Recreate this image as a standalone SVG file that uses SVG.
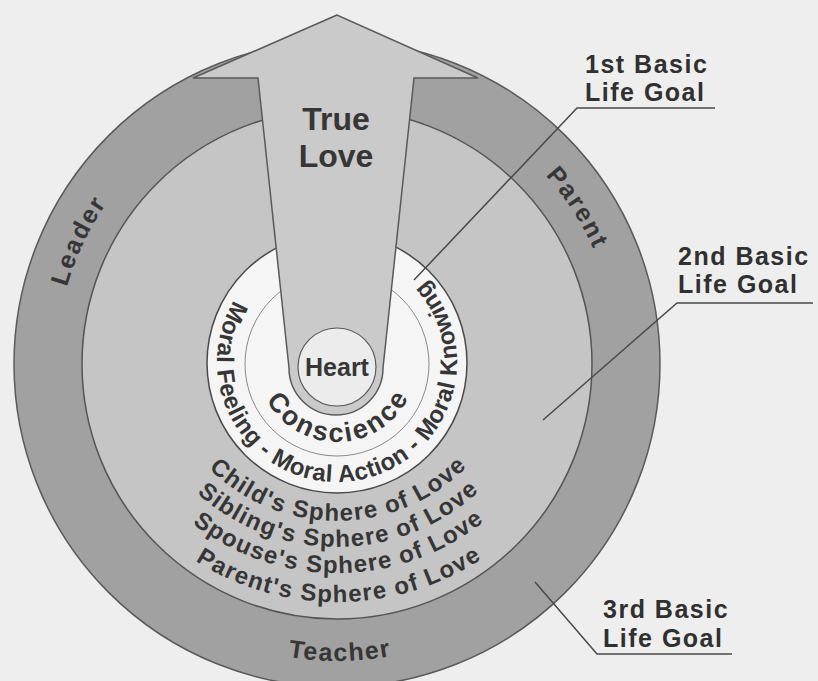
<svg xmlns="http://www.w3.org/2000/svg" width="818" height="681" viewBox="0 0 818 681">
<style>
text{font-family:"Liberation Sans",Arial,Helvetica,sans-serif;font-weight:bold;fill:#363636}
.ring{font-size:25px;letter-spacing:2px}
.goal{font-size:25px;letter-spacing:1.5px;fill:#303030}
.sph{font-size:24px;letter-spacing:1.3px}
.lead{stroke:#4a4a4a;stroke-width:1.5;fill:none}
</style>
<defs>
<path id="pLeader" d="M81.3,480.5 A281,281 0 0 1 266.6,92.0"/>
<path id="pParent" d="M371.2,85.1 A281,281 0 0 1 605.7,446.2"/>
<path id="pTeacher" d="M111.5,557.3 A297,297 0 0 0 566.5,552.5"/>
<path id="pMoral" d="M266.5,264.9 A120,120 0 1 0 385.8,252.4"/>
<path id="pCons" d="M257.9,350.2 A80,80 0 1 0 415.4,346.0"/>
<path id="pS1" d="M157.1,371.3 A183,183 0 0 0 517.5,368.2"/>
<path id="pS2" d="M131.5,376.1 A209,209 0 0 0 543.1,372.5"/>
<path id="pS3" d="M105.9,380.8 A235,235 0 0 0 568.8,376.8"/>
<path id="pS4" d="M77.4,386.1 A264,264 0 0 0 597.4,381.6"/>
</defs>
<rect width="818" height="681" fill="#eeeeee"/>

<g id="goal3-ring">
<circle cx="337" cy="364" r="323" fill="#a1a1a1" stroke="#5a5a5a" stroke-width="1.5"/>
</g>
<g id="goal2-area">
<circle cx="337" cy="364" r="255" fill="#c5c5c5" stroke="#555555" stroke-width="1.5"/>
</g>
<g id="goal1-area">
<circle cx="337" cy="363" r="130" fill="#f5f5f5" stroke="#4a4a4a" stroke-width="1.5"/>
<circle cx="337" cy="364" r="92" fill="none" stroke="#8a8a8a" stroke-width="1"/>
</g>
<g id="true-love-arrow">
<path d="M337,15 L193,78 L258,78 L289,368 A47,47 0 0 0 383,368 L414,78 L478,78 Z" fill="#cacaca" stroke="#5a5a5a" stroke-width="1.5" stroke-linejoin="miter"/>
<text x="336" y="130" text-anchor="middle" style="font-size:32px">True</text>
<text x="336" y="167" text-anchor="middle" style="font-size:32px">Love</text>
</g>
<g id="heart">
<circle cx="337" cy="367" r="39" fill="#ececec" stroke="#5a5a5a" stroke-width="1.2"/>
<text x="337" y="376" text-anchor="middle" style="font-size:25px">Heart</text>
</g>
<g id="conscience">
<text style="font-size:27px;letter-spacing:2.5px"><textPath href="#pCons" startOffset="50%" text-anchor="middle">Conscience</textPath></text>
<text style="font-size:24px;letter-spacing:0.4px"><textPath href="#pMoral" startOffset="50%" text-anchor="middle">Moral Feeling - Moral Action - Moral Knowing</textPath></text>
</g>
<g id="spheres">
<text class="sph"><textPath href="#pS1" startOffset="50%" text-anchor="middle">Child's Sphere of Love</textPath></text>
<text class="sph"><textPath href="#pS2" startOffset="50%" text-anchor="middle">Sibling's Sphere of Love</textPath></text>
<text class="sph"><textPath href="#pS3" startOffset="50%" text-anchor="middle">Spouse's Sphere of Love</textPath></text>
<text class="sph"><textPath href="#pS4" startOffset="50%" text-anchor="middle">Parent's Sphere of Love</textPath></text>
</g>
<g id="roles">
<text class="ring"><textPath href="#pLeader" startOffset="50%" text-anchor="middle">Leader</textPath></text>
<text class="ring"><textPath href="#pParent" startOffset="50%" text-anchor="middle">Parent</textPath></text>
<text class="ring" style="letter-spacing:1.5px"><textPath href="#pTeacher" startOffset="50%" text-anchor="middle">Teacher</textPath></text>
</g>
<g id="label-1st">
<text class="goal" x="585" y="73">1st Basic</text>
<text class="goal" x="585" y="101">Life Goal</text>
</g>
<g id="label-2nd">
<text class="goal" x="678" y="265">2nd Basic</text>
<text class="goal" x="678" y="293">Life Goal</text>
</g>
<g id="label-3rd">
<text class="goal" x="603" y="618">3rd Basic</text>
<text class="goal" x="603" y="647">Life Goal</text>
</g>
<g id="connectors">
<polyline class="lead" points="715,108 577,108 414,280"/>
<polyline class="lead" points="813,303 677,303 543,420"/>
<polyline class="lead" points="732,654 597,654 535,582"/>
</g>
</svg>
